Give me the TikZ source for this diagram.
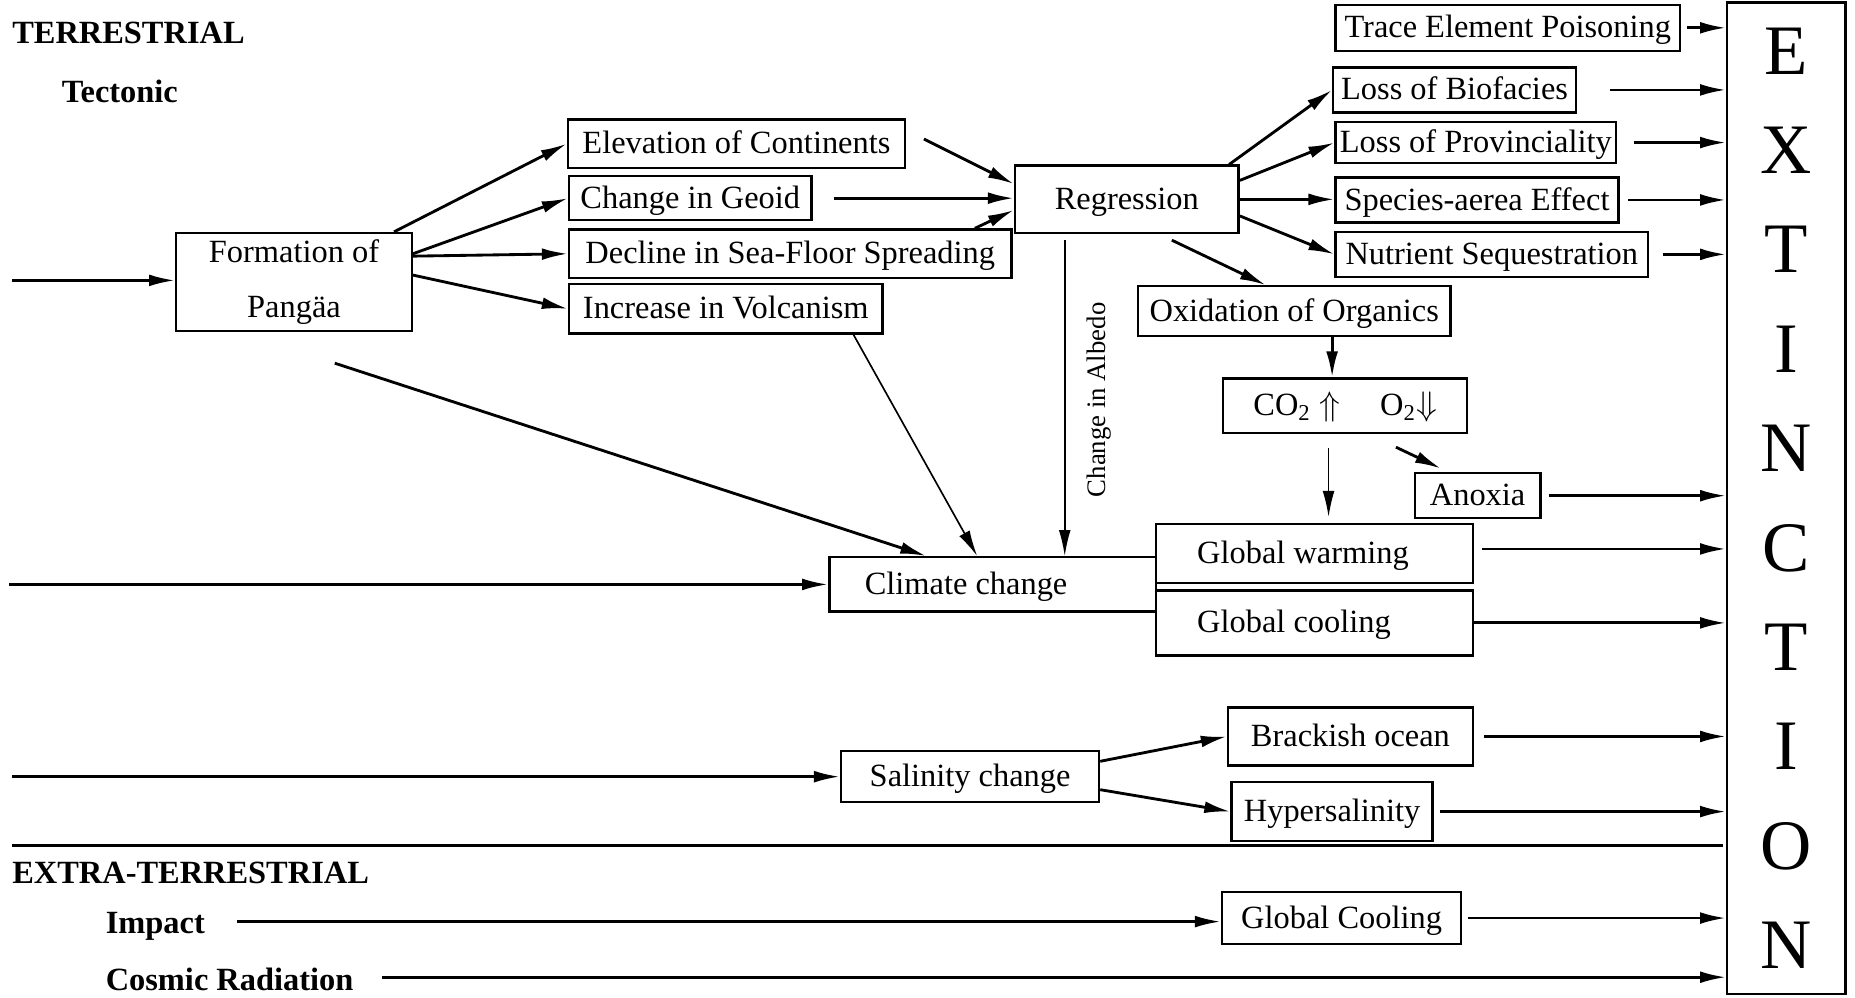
\documentclass[tikz,border=0pt]{standalone}
\usepackage{fontspec}
\setmainfont{Liberation Serif}
\usetikzlibrary{arrows.meta}
\newcommand{\boxfont}{\fontsize{13.7}{16.5}\selectfont}
\newcommand{\lefttext}[2]{\makebox[#1][l]{#2}}

\begin{document}
\begin{tikzpicture}[
    x=0.5pt, y=-0.5pt,
    box/.style={rectangle, draw, line width=1pt, inner sep=0pt, text height=8.5pt, text depth=0pt, font=\boxfont},
    lbox/.style={box, inner xsep=#1},
    head/.style={anchor=west, inner sep=0pt, font=\boxfont\bfseries},
    arrow/.style={-{Latex[length=11pt,width=5pt]}, line width=1.2pt},
    thinarrow/.style={arrow, line width=0.7pt}
]
\useasboundingbox (0,0) rectangle (1568,843);

% Headings
\node[head] (terr) at (10,28) {TERRESTRIAL};
\node[head] (tect) at (52,77) {Tectonic};
\node[head] (extra) at (10,738) {EXTRA-TERRESTRIAL};
\node[head] (imp) at (89,783) {Impact};
\node[head] (cosm) at (89,828) {Cosmic Radiation};

% Tectonic chain
\node[box, text height=, text depth=, minimum width=99.5pt, minimum height=41.5pt, align=center] (form) at (248.5,238.5) {Formation of\\[6.5pt]Pangäa};
\node[box, minimum width=142.5pt, minimum height=20.5pt] (elev) at (622.5,121.5) {Elevation of Continents};
\node[box, minimum width=102.5pt, minimum height=18.5pt] (geoid) at (583.5,167.5) {Change in Geoid};
\node[box, minimum width=187pt, minimum height=20.5pt] (decline) at (668,214.5) {Decline in Sea-Floor Spreading};
\node[box, minimum width=132.5pt, minimum height=21pt] (volc) at (613.5,261) {Increase in Volcanism};
\node[box, minimum width=94.5pt, minimum height=28.5pt] (regr) at (952.5,168.5) {Regression};

% Regression effects
\node[box, minimum width=145.5pt, minimum height=19.5pt] (trace) at (1274.5,23.5) {Trace Element Poisoning};
\node[box, minimum width=102.5pt, minimum height=19pt] (biof) at (1229.5,76) {Loss of Biofacies};
\node[box, minimum width=118.5pt, minimum height=17.5pt] (prov) at (1247.5,120.5) {Loss of Provinciality};
\node[box, minimum width=119.5pt, minimum height=19pt] (species) at (1248.5,169) {Species-aerea Effect};
\node[box, minimum width=132pt, minimum height=19pt] (nutr) at (1261,215) {Nutrient Sequestration};
\node[box, minimum width=132pt, minimum height=21pt] (oxid) at (1094,263) {Oxidation of Organics};
\node[box, minimum width=103pt, minimum height=23pt] (co2) at (1137,343) {CO\textsubscript{2} $\Uparrow$\hspace{17pt}O\textsubscript{2}$\Downarrow$};
\node[box, minimum width=53pt, minimum height=19pt] (anox) at (1249,419) {Anoxia};

% Climate
\node[lbox=15pt, minimum height=23pt] (clim) at (839,494) {\lefttext{108pt}{Climate change}};
\node[lbox=17.5pt, minimum height=25pt] (warm) at (1111,468) {\lefttext{99pt}{Global warming}};
\node[lbox=17.5pt, minimum height=27.5pt] (cool) at (1111,526.5) {\lefttext{99pt}{Global cooling}};
\node[rotate=90, font=\fontsize{11.3}{13}\selectfont] (albedo) at (929,338) {Change in Albedo};

% Salinity
\node[box, minimum width=109pt, minimum height=21.5pt] (sal) at (820,656.5) {Salinity change};
\node[box, minimum width=103.5pt, minimum height=24.5pt] (brack) at (1141.5,622.5) {Brackish ocean};
\node[box, minimum width=85pt, minimum height=25pt] (hyper) at (1126,686) {Hypersalinity};

% Extra-terrestrial
\node[box, minimum width=101pt, minimum height=22pt] (gcool) at (1134,776) {Global Cooling};

% Extinction
\node[box, text height=, text depth=, minimum width=50pt, minimum height=419pt, align=center, font=\fontsize{30}{42}\selectfont] (ext) at (1510,421) {E\\X\\T\\I\\N\\C\\T\\I\\O\\N};

% Arrows: tectonic chain
\coordinate (formIn) at (10,237);
\draw[arrow] (formIn) -- (formIn -| form.west);
\draw[arrow] ([xshift=-8pt]form.north east) -- (elev.west);
\draw[arrow] ([yshift=12pt]form.east) -- (geoid.west);
\draw[arrow] ([yshift=11pt]form.east) -- (decline.west);
\draw[arrow] ([yshift=3pt]form.east) -- (volc.west);
\draw[arrow] ([xshift=7.5pt,yshift=2pt]elev.east) -- ([yshift=6.5pt]regr.west);
\draw[arrow, shorten <=9pt] (geoid.east) -- (geoid.east -| regr.west);
\draw[arrow] ([xshift=-16pt]decline.north east) -- ([yshift=-4.5pt]regr.west);

% Arrows: regression effects
\draw[arrow] ([xshift=-4.5pt]regr.north east) -- (biof.west);
\draw[arrow] ([yshift=8pt]regr.east) -- (prov.west);
\draw[arrow] (regr.east) -- (regr.east -| species.west);
\draw[arrow] ([yshift=-7pt]regr.east) -- (nutr.west);
\draw[arrow] ([xshift=19pt,yshift=-2.5pt]regr.south) -- ([xshift=-12pt]oxid.north);

% Arrows: climate
\coordinate (albTop) at ([xshift=-26.25pt,yshift=-2.5pt]regr.south);
\draw[thinarrow] (albTop) -- (albTop |- clim.north);
\draw[thinarrow] ([xshift=54pt]volc.south) -- ([xshift=-6.5pt]clim.north);
\coordinate (pgTail) at (283,307);
\draw[arrow] (pgTail) -- ([xshift=-28pt]clim.north);
\coordinate (climIn) at (8,494);
\draw[arrow] (climIn) -- (climIn -| clim.west);

% Arrows: oxidation and gases
\coordinate (oxBase) at ([xshift=16pt]oxid.south);
\draw[arrow] (oxBase) -- (oxBase |- co2.north);
\coordinate (co2Base) at ([xshift=-7pt,yshift=-6pt]co2.south);
\draw[thinarrow, shorten >=2.5pt] (co2Base) -- (co2Base |- warm.north);
\draw[arrow] ([xshift=21.5pt,yshift=-5.5pt]co2.south) -- ([xshift=-15.5pt,yshift=1.5pt]anox.north);

% Arrows: salinity
\coordinate (salIn) at (10,656.5);
\draw[arrow] (salIn) -- (salIn -| sal.west);
\draw[arrow] ([yshift=6.5pt]sal.east) -- (brack.west);
\draw[arrow] ([yshift=-5.5pt]sal.east) -- (hyper.west);

% Divider
\draw[line width=1.2pt] (10,715) -- (1456,715);

% Arrows: extra-terrestrial
\coordinate (impOut) at ([yshift=2pt]imp.east);
\draw[arrow, shorten <=13.5pt] (impOut) -- (impOut -| gcool.west);
\coordinate (cosOut) at ([yshift=1pt]cosm.east);
\draw[arrow, shorten <=12pt] (cosOut) -- (cosOut -| ext.west);

% Arrows into extinction
\draw[arrow, shorten <=2.5pt] (trace.east) -- (trace.east -| ext.west);
\draw[arrow, shorten <=14pt] (biof.east) -- (biof.east -| ext.west);
\draw[arrow, shorten <=7pt] (prov.east) -- (prov.east -| ext.west);
\draw[arrow, shorten <=3.5pt] (species.east) -- (species.east -| ext.west);
\draw[arrow, shorten <=6pt] (nutr.east) -- (nutr.east -| ext.west);
\draw[arrow, shorten <=3pt] (anox.east) -- (anox.east -| ext.west);
\draw[arrow, shorten <=3.5pt] ([yshift=2pt]warm.east) -- ([yshift=2pt]warm.east -| ext.west);
\draw[arrow] (cool.east) -- (cool.east -| ext.west);
\draw[arrow, shorten <=4pt] (brack.east) -- (brack.east -| ext.west);
\draw[arrow, shorten <=2.5pt] (hyper.east) -- (hyper.east -| ext.west);
\draw[arrow, shorten <=2.5pt] (gcool.east) -- (gcool.east -| ext.west);

\end{tikzpicture}
\end{document}
